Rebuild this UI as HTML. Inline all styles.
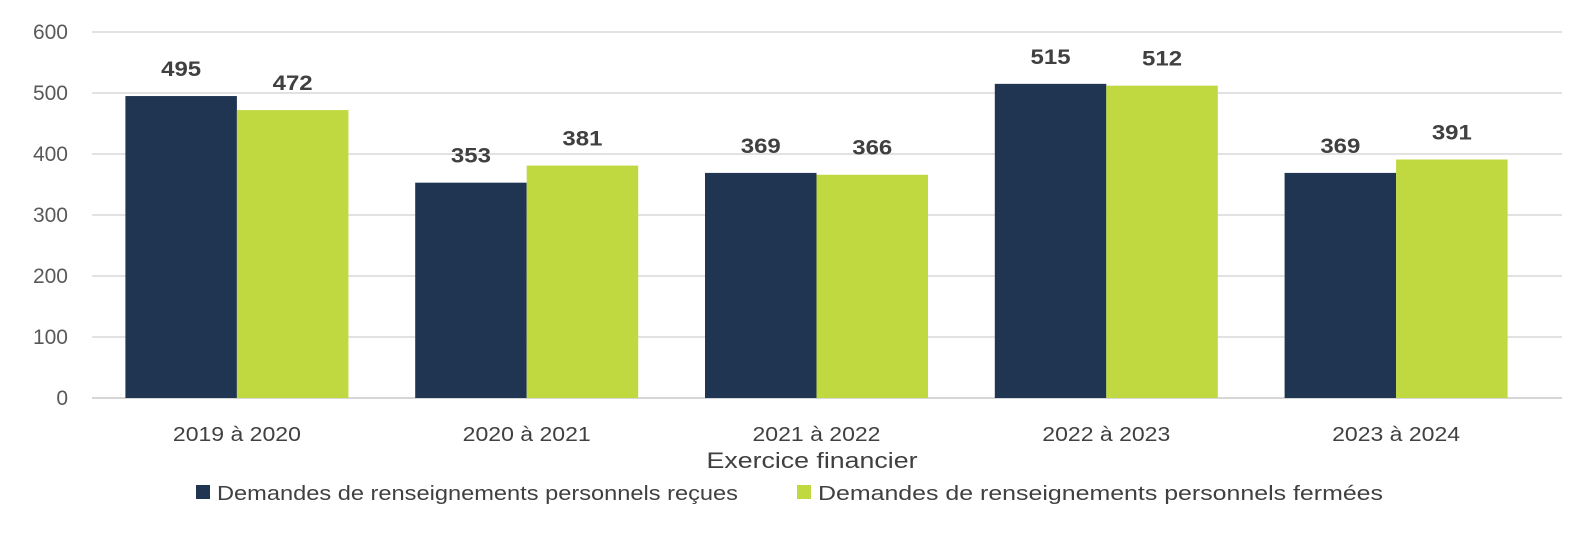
<!DOCTYPE html>
<html><head><meta charset="utf-8"><style>
html,body{margin:0;padding:0;background:#fff;overflow:hidden;}
svg{display:block;}
svg text{font-family:"Liberation Sans",sans-serif;}
</style></head><body>
<svg id="chart" width="1576" height="537" xmlns="http://www.w3.org/2000/svg"></svg>
<script>
const categories=["2019 à 2020","2020 à 2021","2021 à 2022","2022 à 2023","2023 à 2024"];
const received=[495,353,369,515,369];
const closed=[472,381,366,512,391];
const yTicks=[0,100,200,300,400,500,600];
const seriesNames=["Demandes de renseignements personnels reçues","Demandes de renseignements personnels fermées"];
const colors=["#1f3552","#c0d941"];
const svg=document.getElementById('chart');
const NS="http://www.w3.org/2000/svg";
const x0=92,catW=289.8,y0=398,yTop=32;
const y=v=>y0-(v/600)*(y0-yTop);
function mk(t,a,txt){const e=document.createElementNS(NS,t);for(const k in a)e.setAttribute(k,a[k]);if(txt!==undefined)e.textContent=txt;svg.appendChild(e);return e;}
yTicks.forEach(t=>{
  const g=mk('line',{x1:x0,x2:1562,y1:y(t),y2:y(t),stroke:t===0?'#c8c8c8':'#d9d9d9','stroke-width':1.5});
  
  
  const l=mk('text',{x:68,y:y(t)+7,'text-anchor':'end','font-size':21,fill:'#595959'},t);
  
  
});
const bw=111.5;
categories.forEach((c,i)=>{
  const cx=x0+catW*i+catW/2;
  [received,closed].forEach((s,j)=>{
    const bx=j===0?cx-bw:cx;
    const r=mk('rect',{x:bx,y:y(s[i]),width:bw,height:y0-y(s[i]),fill:colors[j]});
    
    
    const t=mk('text',{x:bx+bw/2,y:y(s[i])-20,'text-anchor':'middle','font-size':21,'font-weight':'bold',fill:'#404040',textLength:40,lengthAdjust:'spacingAndGlyphs'},s[i]);
    
    
  });
  const cl=mk('text',{x:cx,y:441,'text-anchor':'middle','font-size':20,fill:'#404040',textLength:128,lengthAdjust:'spacingAndGlyphs'},c);
  
  
});
const at=mk('text',{x:812,y:468,'text-anchor':'middle','font-size':22,fill:'#404040',textLength:211,lengthAdjust:'spacingAndGlyphs'},"Exercice financier");


const lx=[196,797];
const lw=[521,565];
seriesNames.forEach((n,j)=>{
  const r=mk('rect',{x:lx[j],y:485,width:14,height:14,fill:colors[j]});
  
  
  const t=mk('text',{x:lx[j]+21,y:500,'font-size':20,fill:'#404040',textLength:lw[j],lengthAdjust:'spacingAndGlyphs'},n);
  
  
});
</script>
</body></html>
